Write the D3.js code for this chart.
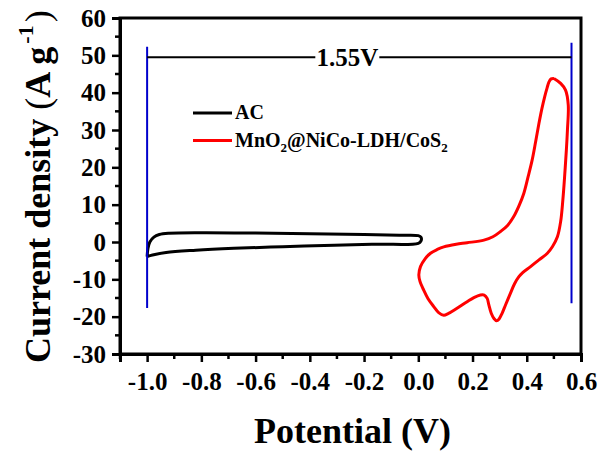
<!DOCTYPE html>
<html>
<head>
<meta charset="utf-8">
<script src="https://cdn.jsdelivr.net/npm/d3@7"></script>
<style>
  body { margin: 0; background: #fff; }
  text { font-family: "Liberation Serif", "Times New Roman", serif; font-weight: bold; }
</style>
</head>
<body>
<svg id="chart" width="601" height="452"></svg>
<script>
// CV data: [potential (V), current density (A/g)]
const acLoop = [
  [-1.0, -3.9], [-0.997, -1.8], [-0.99, 0.0], [-0.975, 1.3], [-0.955, 2.0], [-0.92, 2.35],
  [-0.8, 2.5], [-0.6, 2.4], [-0.4, 2.2], [-0.2, 2.0], [-0.07, 1.8], [0.0, 1.7],
  [0.01, 1.3], [0.01, 0.3], [0.0, -0.35], [-0.15, -0.6], [-0.31, -0.85], [-0.5, -1.25],
  [-0.68, -1.7], [-0.82, -2.2], [-0.93, -2.8], [-0.98, -3.5], [-1.0, -3.9]
]
const hybridLoop = [
  [0.500, 43.8], [0.525, 42.5], [0.543, 40.7], [0.553, 36.7], [0.550, 30.0], [0.546, 24.6],
  [0.540, 18.0], [0.533, 11.2], [0.525, 5.5], [0.513, 1.4], [0.495, -1.2], [0.476, -3.0],
  [0.445, -4.8], [0.414, -6.6], [0.385, -8.2], [0.371, -9.3], [0.355, -11.2], [0.340, -13.7],
  [0.322, -16.8], [0.309, -19.1], [0.298, -20.6], [0.289, -21.1], [0.279, -20.5], [0.269, -19.1],
  [0.260, -16.8], [0.254, -15.1], [0.243, -14.2], [0.229, -14.2], [0.205, -14.9], [0.180, -16.0],
  [0.140, -17.9], [0.110, -19.2], [0.094, -19.6], [0.075, -18.9], [0.057, -17.3], [0.036, -15.2],
  [0.020, -12.9], [0.006, -10.5], [0.002, -8.8], [0.008, -6.6], [0.025, -4.5], [0.045, -3.0],
  [0.070, -2.0], [0.094, -1.3], [0.140, -0.6], [0.180, -0.2], [0.242, 0.5], [0.275, 1.4],
  [0.303, 2.8], [0.330, 4.5], [0.352, 6.8], [0.372, 9.8], [0.389, 13.0], [0.405, 17.5],
  [0.420, 22.0], [0.433, 27.0], [0.445, 31.8], [0.456, 35.8], [0.466, 38.9], [0.475, 41.3],
  [0.482, 42.9], [0.490, 43.7], [0.500, 43.8]
]

const seriesNames = ['AC', 'MnO2@NiCo-LDH/CoS2']
const seriesColors = ['#000000', '#ff0000']
const xTicks = [-1.0, -0.8, -0.6, -0.4, -0.2, 0.0, 0.2, 0.4, 0.6]
const yTicks = [-30, -20, -10, 0, 10, 20, 30, 40, 50, 60]
const windowStart = -1.0
const windowEnd = 0.565
const windowLabel = '1.55V'
const windowLevel = 49.5
const windowLineLow = [-17.7, -16.4]
const windowLineHigh = [52.3, 53.4]

const margin = {top: 18, right: 20, bottom: 98, left: 120}
const width = 601, height = 452

const svg = d3.select('#chart')

const x = d3.scaleLinear()
  .domain([-1.1, 0.6])
  .range([margin.left, width - margin.right])
const y = d3.scaleLinear()
  .domain([-30, 60])
  .range([height - margin.bottom, margin.top])

const hyphen = f => d => f(d).replace('\u2212', '-')

// minor ticks
const xMinor = d3.range(-1.1, 0.6001, 0.1).filter(v => !xTicks.some(t => Math.abs(t - v) < 1e-6))
const yMinor = d3.range(-25, 60, 10)

const xAxis = svg.append('g')
  .attr('transform', `translate(0,${y(-30)})`)
  .call(d3.axisBottom(x).tickValues(xTicks).tickFormat(hyphen(d3.format('.1f'))).tickSize(8).tickPadding(10))
xAxis.append('g').selectAll('line')
  .data(xMinor)
  .join('line')
  .attr('x1', d => x(d)).attr('x2', d => x(d))
  .attr('y1', 0).attr('y2', 5)
  .attr('stroke', '#000').attr('stroke-width', 2.5)

const yAxis = svg.append('g')
  .attr('transform', `translate(${x(-1.1)},0)`)
  .call(d3.axisLeft(y).tickValues(yTicks).tickFormat(hyphen(d3.format('d'))).tickSize(8).tickPadding(6))
yAxis.append('g').selectAll('line')
  .data(yMinor)
  .join('line')
  .attr('y1', d => y(d)).attr('y2', d => y(d))
  .attr('x1', 0).attr('x2', -5)
  .attr('stroke', '#000').attr('stroke-width', 2.5)

svg.selectAll('.domain').attr('stroke-width', 3)
svg.selectAll('.tick line').attr('stroke-width', 2.5)
svg.selectAll('.tick text')
  .style('font-size', '25px')
  .attr('fill', '#000')

// frame top and right
svg.append('rect')
  .attr('x', x(-1.1)).attr('y', y(60))
  .attr('width', x(0.6) - x(-1.1)).attr('height', y(-30) - y(60))
  .attr('fill', 'none').attr('stroke', '#000').attr('stroke-width', 3)

const line = d3.line()
  .x(d => x(d[0]))
  .y(d => y(d[1]))
  .curve(d3.curveCatmullRom.alpha(0.5))

svg.append('path')
  .datum(acLoop)
  .attr('d', line)
  .attr('fill', 'none')
  .attr('stroke', seriesColors[0])
  .attr('stroke-width', 3)

svg.append('path')
  .datum(hybridLoop)
  .attr('d', line)
  .attr('fill', 'none')
  .attr('stroke', seriesColors[1])
  .attr('stroke-width', 3)

// voltage window markers
svg.append('line')
  .attr('x1', x(windowStart)).attr('x2', x(windowStart))
  .attr('y1', y(windowLineHigh[0])).attr('y2', y(windowLineLow[0]))
  .attr('stroke', '#0000cc').attr('stroke-width', 2)
svg.append('line')
  .attr('x1', x(windowEnd)).attr('x2', x(windowEnd))
  .attr('y1', y(windowLineHigh[1])).attr('y2', y(windowLineLow[1]))
  .attr('stroke', '#0000cc').attr('stroke-width', 2)

const labelMid = (x(windowStart) + x(windowEnd)) / 2 - 12
svg.append('line')
  .attr('x1', x(windowStart)).attr('x2', labelMid - 32)
  .attr('y1', y(windowLevel)).attr('y2', y(windowLevel))
  .attr('stroke', '#000').attr('stroke-width', 2)
svg.append('line')
  .attr('x1', labelMid + 32).attr('x2', x(windowEnd))
  .attr('y1', y(windowLevel)).attr('y2', y(windowLevel))
  .attr('stroke', '#000').attr('stroke-width', 2)
svg.append('text')
  .attr('x', labelMid).attr('y', y(windowLevel) + 9)
  .attr('text-anchor', 'middle')
  .style('font-size', '25px')
  .text(windowLabel)

// legend
const legend = svg.append('g').attr('transform', 'translate(193,113)')
seriesNames.forEach((name, i) => {
  const g = legend.append('g').attr('transform', `translate(0,${i * 27.5})`)
  g.append('line')
    .attr('x1', 0).attr('x2', 39)
    .attr('stroke', seriesColors[i]).attr('stroke-width', 3)
  const t = g.append('text').attr('x', 42).attr('y', 6).style('font-size', '20px')
  if (i === 0) {
    t.text(name)
  } else {
    t.append('tspan').text('MnO')
    t.append('tspan').attr('dy', 5).style('font-size', '13px').text('2')
    t.append('tspan').attr('dy', -5).text('@NiCo-LDH/CoS')
    t.append('tspan').attr('dy', 5).style('font-size', '13px').text('2')
  }
})

// axis titles
svg.append('text')
  .attr('x', (x(-1.1) + x(0.6)) / 2 + 2)
  .attr('y', 443)
  .attr('text-anchor', 'middle')
  .style('font-size', '36px')
  .text('Potential (V)')

const yTitle = svg.append('text')
  .attr('transform', 'translate(50,363) rotate(-90)')
  .style('font-size', '36px')
yTitle.append('tspan').text('Current density ')
yTitle.append('tspan').style('font-weight', 'normal').text('(')
yTitle.append('tspan').text('A g')
yTitle.append('tspan').attr('dy', -17).attr('dx', 3).style('font-size', '22px').text('-1')
yTitle.append('tspan').attr('dy', 17).attr('dx', 3).style('font-weight', 'normal').text(')')
</script>
</body>
</html>
